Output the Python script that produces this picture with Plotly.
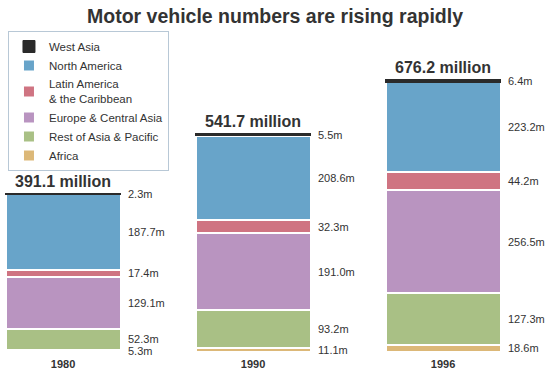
import plotly.graph_objects as go

years = ["1980", "1990", "1996"]
regions = ["Africa", "Rest of Asia & Pacific", "Europe & Central Asia",
           "Latin America<br>& the Caribbean", "North America", "West Asia"]
africa = [5.3, 11.1, 18.6]
rest_asia = [52.3, 93.2, 127.3]
europe = [129.1, 191.0, 256.5]
latin = [17.4, 32.3, 44.2]
north_am = [187.7, 208.6, 223.2]
west_asia = [2.3, 5.5, 6.4]
totals = [391.1, 541.7, 676.2]
colors = ["#dcb878", "#a9c085", "#b994c0", "#cf7482", "#68a4c9", "#2a2a2a"]

series = [africa, rest_asia, europe, latin, north_am, west_asia]

FONT = "Liberation Sans, Arial, sans-serif"
BAR_W = 0.605

fig = go.Figure()
for name, vals, col in zip(regions, series, colors):
    is_black = name == "West Asia"
    fig.add_trace(go.Bar(
        x=years, y=vals, name=name, width=BAR_W,
        marker=dict(color=col,
                    line=dict(color=col if is_black else "white",
                              width=1 if is_black else 2)),
        hoverinfo="skip",
    ))

annotations = []
for i, yr in enumerate(years):
    base = 0.0
    for vals in series:
        v = vals[i]
        annotations.append(dict(
            x=i, y=base + v / 2, text=f"{v:.1f}m", showarrow=False,
            xanchor="left", yanchor="middle", xshift=63,
            font=dict(family=FONT, size=11, color="#333333")))
        base += v
    annotations.append(dict(
        x=i, y=totals[i], text=f"<b>{totals[i]:.1f} million</b>", showarrow=False,
        xanchor="center", yanchor="bottom", yshift=2,
        font=dict(family=FONT, size=16, color="#333333")))

fig.update_layout(
    barmode="stack",
    width=550, height=373,
    margin=dict(l=0, r=0, t=70, b=21, autoexpand=False),
    paper_bgcolor="white", plot_bgcolor="white",
    title=dict(text="<b>Motor vehicle numbers are rising rapidly</b>",
               x=0.5, xanchor="center", y=1 - 16 / 373, yanchor="middle",
               font=dict(family=FONT, size=19.5, color="#333333")),
    xaxis=dict(range=[-0.332, 2.563], showgrid=False, showline=False,
               automargin=False, ticks="", ticklabelstandoff=4,
               tickfont=dict(family=FONT, size=11, color="#333333",
                             weight="bold")),
    yaxis=dict(range=[0, 700], visible=False),
    legend=dict(x=0.0145, y=(352 - 31) / 282,
                xanchor="left", yanchor="top",
                traceorder="reversed", bgcolor="white",
                bordercolor="#b8c8d6", borderwidth=1,
                font=dict(family=FONT, size=11.5, color="#333333"),
                entrywidth=150, entrywidthmode="pixels",
                tracegroupgap=0),
    annotations=annotations,
    showlegend=True,
)

fig.write_html("out.html",
               config={"displayModeBar": False},
               post_script="document.body.style.margin='0';")
